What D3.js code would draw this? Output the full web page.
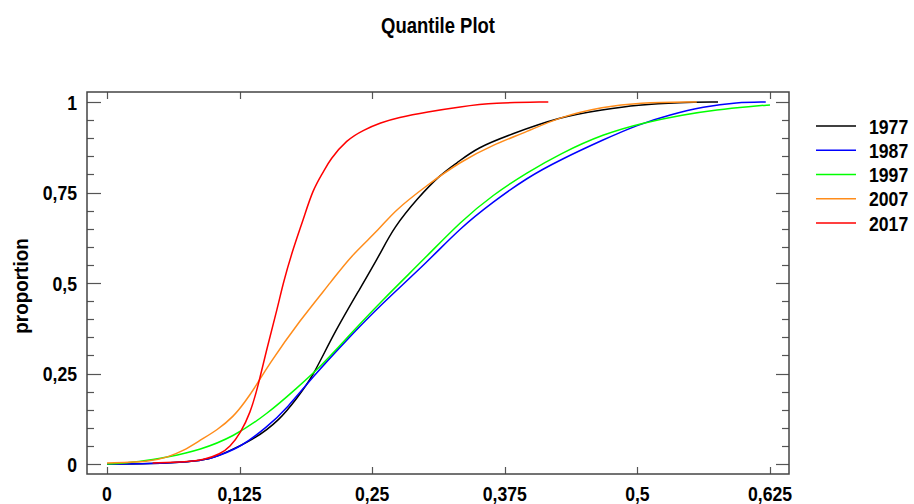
<!DOCTYPE html>
<html>
<head>
<meta charset="utf-8">
<script src="https://cdn.jsdelivr.net/npm/d3@7"></script>
<style>
  body { margin: 0; background: #fff; }
  text { font-family: "Liberation Sans", Arial, sans-serif; font-weight: bold; fill: #000; }
</style>
</head>
<body>
<main></main>
<script>
"use strict";

//Series: [value, proportion]
const years = ["1977", "1987", "1997", "2007", "2017"];
const colorsList = ["#000000", "#0000ff", "#00ff00", "#ff8c1a", "#ff0000"];

const q1977 = [[0,0],[0.041,0.001],[0.0785,0.006],[0.097,0.014],[0.107,0.025],[0.138,0.066],[0.163,0.122],[0.179,0.182],[0.194,0.241],[0.213,0.357],[0.239,0.487],[0.258,0.583],[0.27,0.652],[0.293,0.735],[0.314,0.799],[0.33,0.832],[0.349,0.874],[0.38,0.91],[0.427,0.959],[0.468,0.979],[0.5,0.992],[0.54,0.999],[0.576,1]];
const q1987 = [[0,0],[0.041,0.001],[0.0785,0.006],[0.097,0.014],[0.107,0.025],[0.126,0.047],[0.151,0.102],[0.17,0.155],[0.194,0.241],[0.226,0.343],[0.258,0.44],[0.302,0.558],[0.333,0.652],[0.364,0.724],[0.396,0.791],[0.427,0.84],[0.468,0.896],[0.5,0.937],[0.531,0.965],[0.562,0.987],[0.594,0.999],[0.621,1]];
const q1997 = [[0,0],[0.031,0.006],[0.057,0.019],[0.088,0.039],[0.119,0.075],[0.151,0.138],[0.179,0.21],[0.201,0.268],[0.227,0.351],[0.258,0.448],[0.302,0.575],[0.333,0.669],[0.364,0.744],[0.396,0.805],[0.427,0.857],[0.468,0.912],[0.506,0.943],[0.543,0.965],[0.575,0.979],[0.607,0.988],[0.625,0.992]];
const q2007 = [[0,0.003],[0.041,0.006],[0.057,0.019],[0.072,0.036],[0.088,0.066],[0.104,0.094],[0.119,0.13],[0.13,0.171],[0.141,0.218],[0.151,0.268],[0.182,0.398],[0.213,0.509],[0.229,0.572],[0.258,0.652],[0.27,0.697],[0.302,0.771],[0.333,0.835],[0.364,0.882],[0.396,0.918],[0.427,0.959],[0.468,0.987],[0.5,0.998],[0.556,1]];
const q2017 = [[0.043,0.003],[0.0757,0.006],[0.091,0.011],[0.107,0.028],[0.116,0.047],[0.126,0.086],[0.135,0.141],[0.142,0.21],[0.151,0.323],[0.161,0.434],[0.166,0.5],[0.176,0.6],[0.185,0.675],[0.194,0.758],[0.204,0.807],[0.21,0.84],[0.226,0.896],[0.242,0.923],[0.258,0.943],[0.274,0.957],[0.302,0.973],[0.333,0.987],[0.364,0.998],[0.416,1]];
const seriesList = [q1977, q1987, q1997, q2007, q2017];

const xTicks = [0, 0.125, 0.25, 0.375, 0.5, 0.625];
const yTicks = [0, 0.25, 0.5, 0.75, 1];
const yMinor = d3.range(0, 1.0001, 0.05);

const w = 914;
const h = 504;
const frame = { left: 87, top: 92, right: 789, bottom: 474 };
const narrow = 0.84; //squeeze text horizontally, the original uses a condensed face

const svg = d3.select("main").append("svg").attr("width", w).attr("height", h);

const xScale = d3.scaleLinear().domain([0, 0.625]).range([107, 770]);
const yScale = d3.scaleLinear().domain([0, 1]).range([464, 102]);

const fmt = (d) => String(d).replace(".", ",");
const at = (x, y, extra = "") => `translate(${x}, ${y}) ${extra} scale(${narrow}, 1)`;

//Title
svg.append("text").attr("transform", at(438, 33)).attr("text-anchor", "middle")
  .style("font-size", "22px").text("Quantile Plot");

//Y axis title
svg.append("text").attr("transform", "translate(28, 286) rotate(-90) scale(0.9, 1)").attr("text-anchor", "middle")
  .style("font-size", "21px").text("proportion");

//Ticks (all pointing inward)
const ticks = svg.append("g").attr("stroke", "#555").attr("stroke-width", 1.2);

yMinor.forEach((v) => {
  const major = yTicks.some((t) => Math.abs(t - v) < 1e-6);
  const y = Math.round(yScale(v)) + 0.5;
  ticks.append("line").attr("x1", frame.left).attr("x2", frame.left + (major ? 14 : 7)).attr("y1", y).attr("y2", y);
  ticks.append("line").attr("x1", frame.right).attr("x2", frame.right - (major ? 13 : 7)).attr("y1", y).attr("y2", y);
});

xTicks.forEach((v) => {
  const x = Math.round(xScale(v)) + 0.5;
  ticks.append("line").attr("x1", x).attr("x2", x).attr("y1", frame.top).attr("y2", frame.top + 7);
  ticks.append("line").attr("x1", x).attr("x2", x).attr("y1", frame.bottom).attr("y2", frame.bottom - 7);
});

//Tick labels
svg.append("g").selectAll("text").data(yTicks).enter().append("text")
  .attr("transform", (d) => at(77, yScale(d))).attr("dy", "0.36em").attr("text-anchor", "end")
  .style("font-size", "21px").text(fmt);

svg.append("g").selectAll("text").data(xTicks).enter().append("text")
  .attr("transform", (d) => at(xScale(d), 501)).attr("text-anchor", "middle")
  .style("font-size", "21px").text(fmt);

//Curves
const line = d3.line().x((d) => xScale(d[0])).y((d) => yScale(d[1])).curve(d3.curveBasis);

svg.append("g").selectAll("path").data(seriesList).enter().append("path")
  .attr("fill", "none").attr("stroke-width", 1.5).attr("stroke-linejoin", "round")
  .attr("stroke", (d, i) => colorsList[i]).attr("d", line);

//Frame
svg.append("rect").attr("x", frame.left).attr("y", frame.top)
  .attr("width", frame.right - frame.left).attr("height", frame.bottom - frame.top)
  .attr("fill", "none").attr("stroke", "#444").attr("stroke-width", 1.5);

//Legend
const legend = svg.append("g").attr("id", "legend");
const legendY = d3.scalePoint().domain(years).range([126, 223]);

legend.selectAll("line").data(years).enter().append("line")
  .attr("x1", 816).attr("x2", 856).attr("y1", (d) => legendY(d)).attr("y2", (d) => legendY(d))
  .attr("stroke", (d, i) => colorsList[i]).attr("stroke-width", 1.5);

legend.selectAll("text").data(years).enter().append("text")
  .attr("transform", (d) => at(869, legendY(d))).attr("dy", "0.36em")
  .style("font-size", "21px").text((d) => d);
</script>
</body>
</html>
